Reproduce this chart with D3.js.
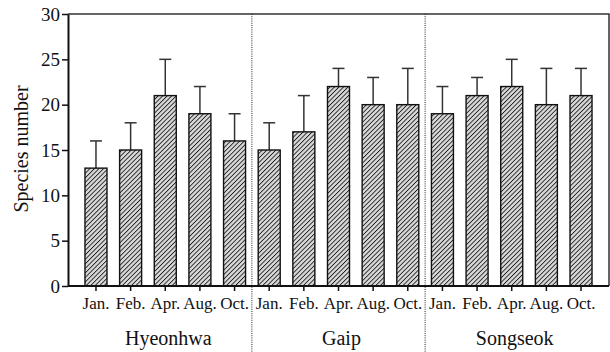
<!DOCTYPE html>
<html lang="en">
<head>
  <meta charset="UTF-8">
  <title>Species number</title>
  <script src="https://d3js.org/d3.v7.min.js"></script>
  <style>
    body { margin: 0; background: #fff; }
  </style>
</head>
<body>
  <svg id="chart"></svg>

  <script>
    const sites = ["Hyeonhwa", "Gaip", "Songseok"];
    const months = ["Jan.", "Feb.", "Apr.", "Aug.", "Oct."];
    const means = [
      [13, 15, 21, 19, 16],
      [15, 17, 22, 20, 20],
      [19, 21, 22, 20, 21]
    ];
    const errors = [
      [3, 3, 4, 3, 3],
      [3, 4, 2, 3, 4],
      [3, 2, 3, 4, 3]
    ];
    const yTicks = [0, 5, 10, 15, 20, 25, 30];

    const width = 610, height = 352;
    const margin = { top: 14, right: 1, bottom: 66, left: 68 };
    const serif = "'Liberation Serif', 'Times New Roman', Times, 'DejaVu Serif', serif";

    const rows = [];
    sites.forEach((s, i) => months.forEach((m, j) => {
      rows.push({ key: s + "-" + m, site: s, month: m, value: means[i][j], err: errors[i][j] });
    }));

    const svg = d3.select("#chart").attr("width", width).attr("height", height);

    const defs = svg.append("defs");
    const pat = defs.append("pattern")
      .attr("id", "hatch")
      .attr("patternUnits", "userSpaceOnUse")
      .attr("width", 3.2).attr("height", 3.2)
      .attr("patternTransform", "rotate(45)");
    pat.append("rect").attr("width", 3.2).attr("height", 3.2).attr("fill", "#d8d8d8");
    pat.append("line").attr("x1", 0).attr("y1", 0).attr("x2", 0).attr("y2", 3.2)
      .attr("stroke", "#1a1a1a").attr("stroke-width", 1.7);

    const x = d3.scaleBand()
      .domain(rows.map(d => d.key))
      .range([margin.left, width - margin.right])
      .paddingInner(0.365)
      .paddingOuter(0.49);

    const y = d3.scaleLinear().domain([0, 30]).range([height - margin.bottom, margin.top]);

    // top and right frame
    svg.append("path")
      .attr("d", `M${margin.left},${margin.top}H${width - margin.right}V${height - margin.bottom}`)
      .attr("fill", "none").attr("stroke", "#333").attr("stroke-width", 1.5);

    // group separators
    const sepX = [];
    for (let i = 1; i < sites.length; i++) {
      const a = x(sites[i - 1] + "-" + months[months.length - 1]) + x.bandwidth();
      const b = x(sites[i] + "-" + months[0]);
      sepX.push((a + b) / 2);
    }
    svg.selectAll(".sep").data(sepX).enter().append("line")
      .attr("x1", d => d).attr("x2", d => d)
      .attr("y1", margin.top).attr("y2", height)
      .attr("stroke", "#222").attr("stroke-width", 1)
      .attr("stroke-dasharray", "1,1.2");

    // error bars
    const cap = 6;
    const eb = svg.selectAll(".err").data(rows).enter().append("g");
    eb.append("line")
      .attr("x1", d => x(d.key) + x.bandwidth() / 2).attr("x2", d => x(d.key) + x.bandwidth() / 2)
      .attr("y1", d => y(d.value)).attr("y2", d => y(d.value + d.err))
      .attr("stroke", "#333").attr("stroke-width", 1.5);
    eb.append("line")
      .attr("x1", d => x(d.key) + x.bandwidth() / 2 - cap).attr("x2", d => x(d.key) + x.bandwidth() / 2 + cap)
      .attr("y1", d => y(d.value + d.err)).attr("y2", d => y(d.value + d.err))
      .attr("stroke", "#333").attr("stroke-width", 1.5);

    // bars
    svg.selectAll(".bar").data(rows).enter().append("rect")
      .attr("x", d => x(d.key))
      .attr("y", d => y(d.value))
      .attr("width", x.bandwidth())
      .attr("height", d => y(0) - y(d.value))
      .attr("fill", "url(#hatch)")
      .attr("stroke", "#111").attr("stroke-width", 1.4);

    // y axis
    const yAxis = svg.append("g")
      .attr("transform", `translate(${margin.left},0)`)
      .call(d3.axisLeft(y).tickValues(yTicks).tickSize(6).tickPadding(2).tickSizeOuter(0));
    yAxis.select(".domain").attr("stroke", "#111").attr("stroke-width", 2);
    yAxis.selectAll(".tick line").attr("stroke", "#111").attr("stroke-width", 1.5);
    yAxis.selectAll(".tick text")
      .style("font-family", serif).style("font-size", "19px").attr("fill", "#111");

    // x axis
    const xAxis = svg.append("g")
      .attr("transform", `translate(0,${height - margin.bottom})`)
      .call(d3.axisBottom(x).tickSize(5).tickPadding(6).tickSizeOuter(0)
        .tickFormat(k => rows.find(r => r.key === k).month));
    xAxis.select(".domain").attr("stroke", "#111").attr("stroke-width", 2)
      .attr("d", `M${margin.left},0H${width - margin.right}`);
    xAxis.selectAll(".tick line").attr("stroke", "#111").attr("stroke-width", 1.5);
    xAxis.selectAll(".tick text")
      .style("font-family", serif).style("font-size", "17px").attr("fill", "#111");

    // site labels
    svg.selectAll(".site").data(sites).enter().append("text")
      .attr("x", s => {
        const a = x(s + "-" + months[0]);
        const b = x(s + "-" + months[months.length - 1]) + x.bandwidth();
        return (a + b) / 2 + 3;
      })
      .attr("y", 345)
      .attr("text-anchor", "middle")
      .style("font-family", serif).style("font-size", "20px")
      .attr("fill", "#111")
      .text(s => s);

    // y label
    svg.append("text")
      .attr("transform", `translate(28,149) rotate(-90)`)
      .attr("text-anchor", "middle")
      .style("font-family", serif).style("font-size", "20px")
      .attr("fill", "#111")
      .text("Species number");
  </script>
</body>
</html>
